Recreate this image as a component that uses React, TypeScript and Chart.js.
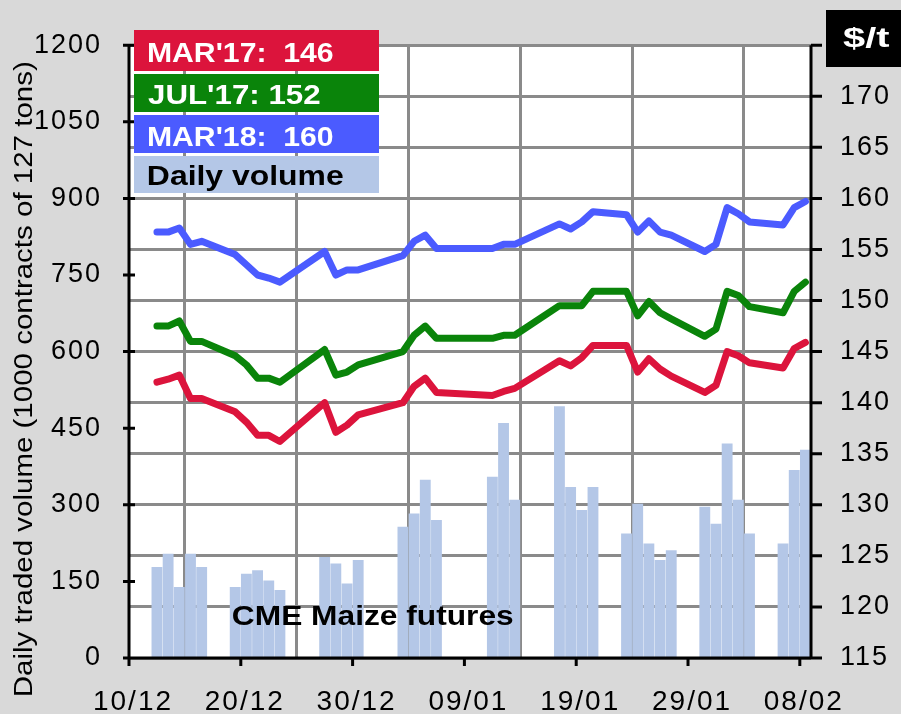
import React, { useEffect, useRef } from "react";
import { Chart, registerables } from "chart.js";

Chart.register(...registerables);

// ---------- data ----------
const baseDate = "2016-12-10"; // x-axis origin (first tick "10/12")

const tradeDates = [
  "2016-12-12", "2016-12-13", "2016-12-14", "2016-12-15", "2016-12-16",
  "2016-12-19", "2016-12-20", "2016-12-21", "2016-12-22", "2016-12-23",
  "2016-12-27", "2016-12-28", "2016-12-29", "2016-12-30",
  "2017-01-03", "2017-01-04", "2017-01-05", "2017-01-06",
  "2017-01-11", "2017-01-12", "2017-01-13",
  "2017-01-17", "2017-01-18", "2017-01-19", "2017-01-20",
  "2017-01-23", "2017-01-24", "2017-01-25", "2017-01-26", "2017-01-27",
  "2017-01-30", "2017-01-31", "2017-02-01", "2017-02-02", "2017-02-03",
  "2017-02-06", "2017-02-07", "2017-02-08",
];

const mar17 = [
  142.0, 142.3, 142.7, 140.4, 140.4,
  139.1, 138.1, 136.8, 136.8, 136.2,
  140.0, 137.1, 137.8, 138.8,
  140.0, 141.6, 142.4, 141.0,
  140.7, 141.1, 141.4,
  144.1, 143.6, 144.4, 145.6,
  145.6, 143.0, 144.3, 143.3, 142.6,
  141.0, 141.7, 145.0, 144.6, 143.9,
  143.4, 145.3, 145.9,
];

const jul17 = [
  147.5, 147.5, 148.0, 146.0, 146.0,
  144.6, 143.7, 142.4, 142.4, 142.0,
  145.2, 142.7, 143.0, 143.7,
  145.0, 146.6, 147.5, 146.3,
  146.3, 146.6, 146.6,
  149.5, 149.5, 149.5, 150.9,
  150.9, 148.5, 149.9, 148.8, 148.2,
  146.5, 147.2, 150.9, 150.5, 149.4,
  148.8, 150.9, 151.8,
];

const mar18 = [
  156.7, 156.7, 157.1, 155.5, 155.8,
  154.5, 153.5, 152.5, 152.2, 151.8,
  154.8, 152.5, 153.0, 153.0,
  154.4, 155.8, 156.4, 155.1,
  155.1, 155.5, 155.5,
  157.5, 157.0, 157.7, 158.7,
  158.4, 156.7, 157.8, 156.7, 156.4,
  154.8, 155.5, 159.1, 158.5, 157.7,
  157.4, 159.1, 159.7,
];

const dailyVolume = [
  178, 204, 139, 204, 178,
  139, 165, 172, 152, 133,
  198, 185, 146, 192,
  257, 283, 349, 270,
  355, 460, 310,
  493, 335, 290, 335,
  244, 302, 224, 192, 211,
  296, 263, 420, 310, 244,
  224, 368, 408,
];

const legendLabels = ["MAR'17:  146", "JUL'17: 152", "MAR'18:  160", "Daily volume"];
const seriesColors = ["#dc143c", "#0a840a", "#4b5bff", "#b4c7e7"];
const legendTextColors = ["#ffffff", "#ffffff", "#ffffff", "#000000"];
const leftAxisTitle = "Daily traded volume (1000 contracts of 127 tons)";
const rightAxisUnit = "$/t";
const chartNote = "CME Maize futures";

const volumeMin = 0;
const volumeMax = 1200;
const volumeStep = 150;
const priceMin = 115;
const priceMax = 175;
const priceStep = 5;
const dayMax = 61;
const dayStep = 10;

// ---------- helpers ----------
const DAY_MS = 86400000;
const dayOf = (iso: string) => (Date.parse(iso) - Date.parse(baseDate)) / DAY_MS;
const fmtTick = (v: number) => {
  const d = new Date(Date.parse(baseDate) + v * DAY_MS);
  const dd = String(d.getUTCDate()).padStart(2, "0");
  const mm = String(d.getUTCMonth() + 1).padStart(2, "0");
  return `${dd}/${mm}`;
};

const FONT = "'Liberation Sans', Arial, sans-serif";
const GRID = "#8a8a8a";

function fitText(
  ctx: CanvasRenderingContext2D,
  text: string,
  x: number,
  baseline: number,
  width: number,
  font: string,
  color: string
) {
  ctx.save();
  ctx.font = font;
  ctx.fillStyle = color;
  ctx.textAlign = "left";
  ctx.textBaseline = "alphabetic";
  const m = ctx.measureText(text);
  const vis = m.actualBoundingBoxRight + m.actualBoundingBoxLeft;
  const s = width / vis;
  ctx.translate(x, baseline);
  ctx.scale(s, 1);
  ctx.fillText(text, m.actualBoundingBoxLeft, 0);
  ctx.restore();
}

const decorPlugin = {
  id: "decor",
  beforeDraw(chart: any) {
    const { ctx, chartArea } = chart;
    ctx.save();
    ctx.fillStyle = "#d9d9d9";
    ctx.fillRect(0, 0, chart.width, chart.height);
    ctx.fillStyle = "#ffffff";
    ctx.fillRect(chartArea.left, chartArea.top, chartArea.right - chartArea.left, chartArea.bottom - chartArea.top);
    ctx.restore();
    (ctx as any).letterSpacing = "2px";
  },
  afterDatasetsDraw(chart: any) {
    const { ctx, chartArea } = chart;
    const { left, right, top, bottom } = chartArea;
    const { x, y, y2 } = chart.scales;
    ctx.save();
    ctx.strokeStyle = "#000000";
    ctx.lineWidth = 3;
    ctx.beginPath();
    ctx.moveTo(left, top);
    ctx.lineTo(left, bottom);
    ctx.moveTo(left - 1, bottom);
    ctx.lineTo(right + 1, bottom);
    ctx.moveTo(right, top);
    ctx.lineTo(right, bottom);
    y.ticks.forEach((t: any) => {
      const py = y.getPixelForValue(t.value);
      ctx.moveTo(left - 6, py);
      ctx.lineTo(left + 6, py);
    });
    y2.ticks.forEach((t: any) => {
      const py = y2.getPixelForValue(t.value);
      ctx.moveTo(right, py);
      ctx.lineTo(right + 11, py);
    });
    x.ticks.forEach((t: any) => {
      const px = x.getPixelForValue(t.value);
      ctx.moveTo(px, bottom);
      ctx.lineTo(px, bottom + 8);
    });
    ctx.stroke();
    ctx.restore();
  },
  afterDraw(chart: any) {
    const { ctx } = chart;
    (ctx as any).letterSpacing = "0px";
    // legend boxes
    const boxes = [
      { y0: 30, y1: 71, base: 62, w: 185 },
      { y0: 74, y1: 112, base: 103.5, w: 172 },
      { y0: 115, y1: 153, base: 145.5, w: 185 },
      { y0: 156, y1: 193, base: 185, w: 195 },
    ];
    boxes.forEach((b, i) => {
      ctx.save();
      ctx.fillStyle = seriesColors[i];
      ctx.fillRect(134, b.y0, 245, b.y1 - b.y0);
      ctx.restore();
      fitText(ctx, legendLabels[i], 148, b.base, b.w, `bold 28px ${FONT}`, legendTextColors[i]);
    });
    // unit box on right axis
    ctx.save();
    ctx.fillStyle = "#000000";
    ctx.fillRect(826, 10, 75, 57);
    ctx.restore();
    fitText(ctx, rightAxisUnit, 843, 47, 46, `bold 28px ${FONT}`, "#ffffff");
    // note
    fitText(ctx, chartNote, 233, 625, 280, `bold 28px ${FONT}`, "#000000");
    // left axis title (rotated)
    ctx.save();
    ctx.font = `26px ${FONT}`;
    const m = ctx.measureText(leftAxisTitle);
    const vis = m.actualBoundingBoxRight + m.actualBoundingBoxLeft;
    ctx.translate(32, 695);
    ctx.rotate(-Math.PI / 2);
    ctx.scale(633 / vis, 1);
    ctx.fillStyle = "#000000";
    ctx.textBaseline = "alphabetic";
    ctx.textAlign = "left";
    ctx.fillText(leftAxisTitle, m.actualBoundingBoxLeft, 0);
    ctx.restore();
  },
};

export default function App() {
  const ref = useRef<HTMLCanvasElement | null>(null);

  useEffect(() => {
    document.body.style.margin = "0";
    document.body.style.background = "#d9d9d9";
    if (!ref.current) return;

    const xs = tradeDates.map((d) => dayOf(d) + 0.5);
    const lineDs = (label: string, vals: number[], color: string) => ({
      type: "line" as const,
      label,
      data: xs.map((x, i) => ({ x, y: vals[i] })),
      yAxisID: "y2",
      borderColor: color,
      backgroundColor: color,
      borderWidth: 7,
      pointRadius: 0,
      tension: 0,
      borderCapStyle: "round" as const,
      borderJoinStyle: "round" as const,
      order: 1,
    });

    const chart = new Chart(ref.current, {
      type: "bar",
      data: {
        datasets: [
          {
            type: "bar",
            label: legendLabels[3],
            data: xs.map((x, i) => ({ x, y: dailyVolume[i] })),
            yAxisID: "y",
            backgroundColor: seriesColors[3],
            barPercentage: 0.97,
            categoryPercentage: 1,
            order: 10,
          } as any,
          lineDs(legendLabels[0], mar17, seriesColors[0]),
          lineDs(legendLabels[1], jul17, seriesColors[1]),
          lineDs(legendLabels[2], mar18, seriesColors[2]),
        ],
      },
      options: {
        animation: false,
        responsive: false,
        events: [],
        layout: { padding: { top: 38, left: 0, right: 0, bottom: 0 } },
        plugins: { legend: { display: false }, tooltip: { enabled: false } },
        scales: {
          x: {
            type: "linear",
            min: 0,
            max: dayMax,
            offset: false,
            grid: { color: GRID, lineWidth: 3, drawTicks: false },
            border: { display: false },
            ticks: {
              stepSize: dayStep,
              includeBounds: false,
              autoSkip: false,
              maxRotation: 0,
              minRotation: 0,
              padding: 27,
              labelOffset: 4,
              color: "#000000",
              font: { family: FONT, size: 28 },
              callback: (v: any) => fmtTick(Number(v)),
            },
            afterFit: (s: any) => {
              s.height = 56;
            },
          },
          y: {
            position: "left",
            min: volumeMin,
            max: volumeMax,
            grid: { display: false, drawTicks: false },
            border: { display: false },
            ticks: {
              stepSize: volumeStep,
              padding: 27,
              color: "#000000",
              font: { family: FONT, size: 27 },
              callback: (v: any) => String(v),
            },
            afterFit: (s: any) => {
              s.width = 129;
            },
          },
          y2: {
            position: "right",
            min: priceMin,
            max: priceMax,
            grid: { color: GRID, lineWidth: 3, drawTicks: false },
            border: { display: false },
            ticks: {
              stepSize: priceStep,
              padding: 29,
              color: "#000000",
              font: { family: FONT, size: 27 },
              callback: (v: any) => (Number(v) === priceMax ? "" : String(v)),
            },
            afterFit: (s: any) => {
              s.width = 90;
            },
          },
        },
      } as any,
      plugins: [decorPlugin],
    });

    return () => chart.destroy();
  }, []);

  return (
    <div style={{ position: "fixed", left: 0, top: 0, width: 901, height: 714, background: "#d9d9d9" }}>
      <canvas ref={ref} width={901} height={714} style={{ display: "block", width: 901, height: 714 }} />
    </div>
  );
}
